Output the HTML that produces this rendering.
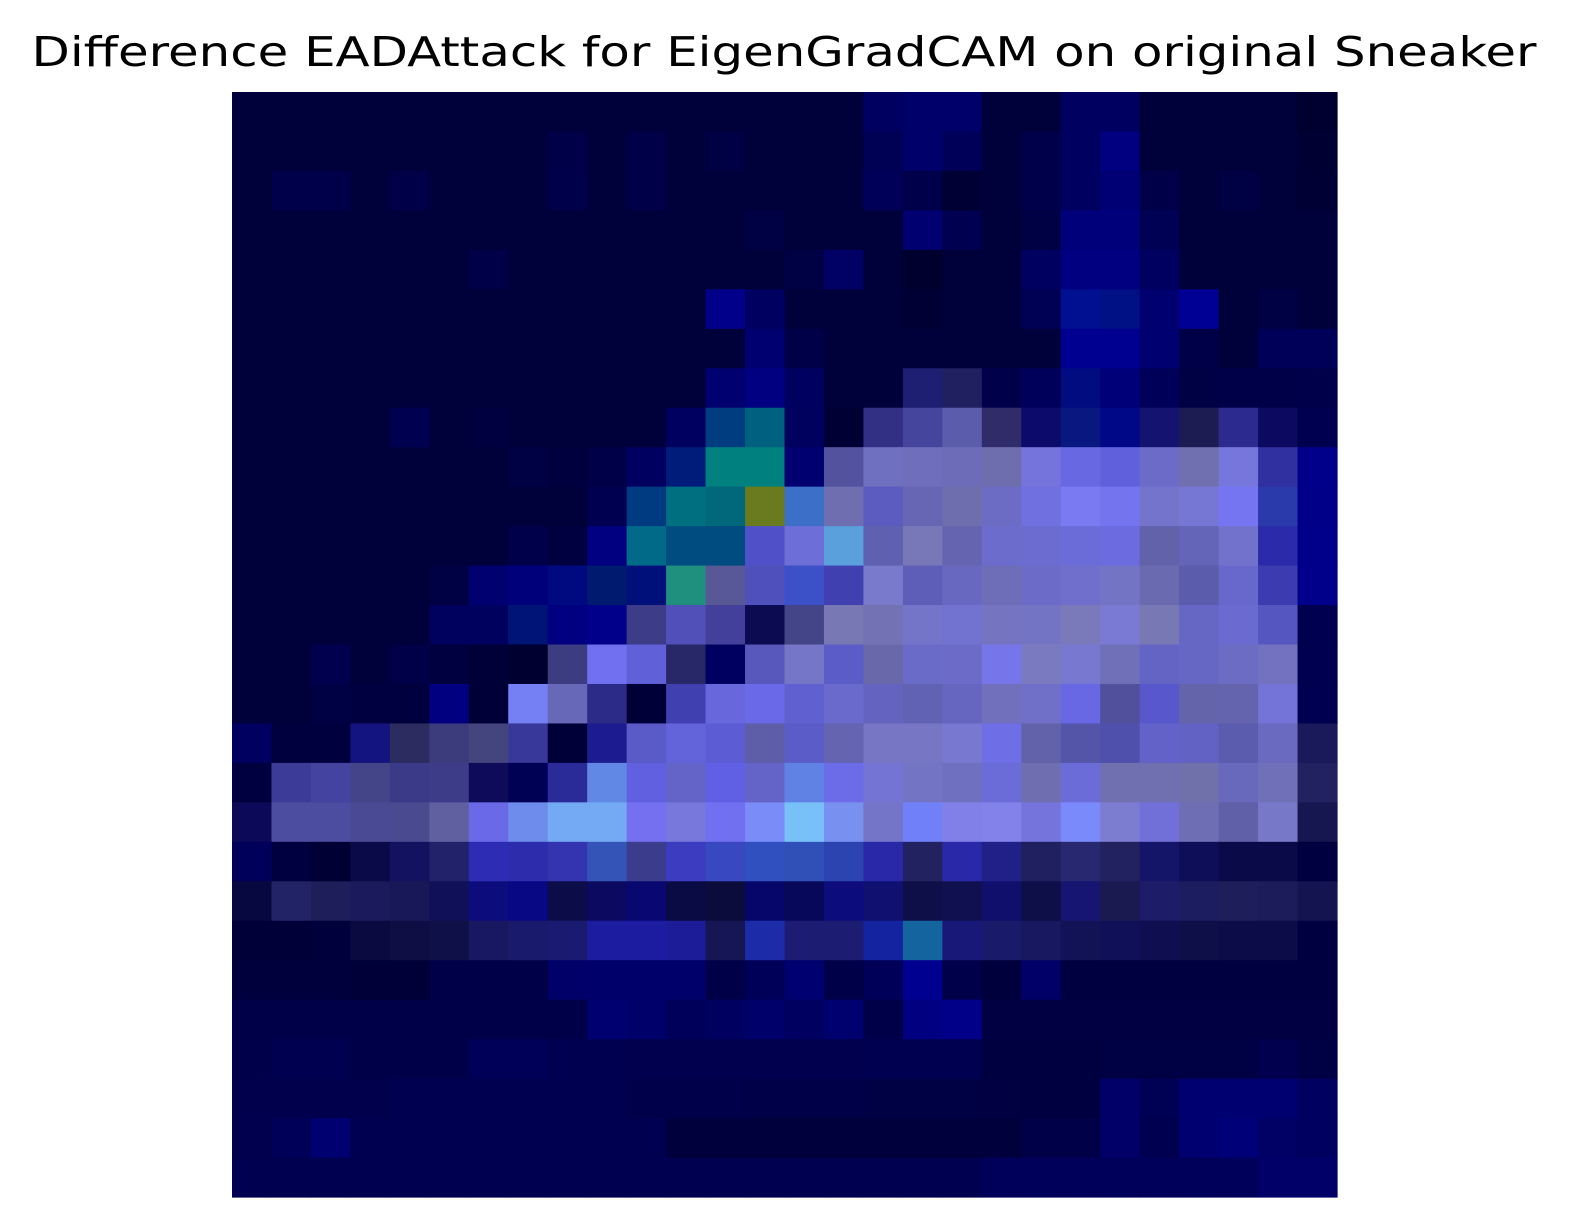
<!DOCTYPE html>
<html><head><meta charset="utf-8"><style>
html,body{margin:0;padding:0;background:#fff;width:1572px;height:1231px;overflow:hidden}
svg{display:block}
</style></head><body>
<svg id="chart" width="1572" height="1231" viewBox="0 0 1572 1231" xmlns="http://www.w3.org/2000/svg">
<text x="784" y="66" text-anchor="middle" font-family="DejaVu Sans, Liberation Sans, sans-serif" font-size="41" textLength="1505" lengthAdjust="spacingAndGlyphs" fill="#000">Difference EADAttack for EigenGradCAM on original Sneaker</text>
<g id="cells"></g>
</svg>
<script>
const D="00003a";
const row0=[D,D,D,D,D,D,D,D,D,D,D,D,D,D,D,D,"000060","00006a","00006a",D,D,"000060","000060",D,D,D,D,"000030"];
const row1=[D,D,D,D,D,D,D,D,"000048",D,"000048",D,"000044",D,D,D,"000055","00006a","000058",D,"00004a","000060","000080",D,D,D,D,"000032"];
const row2=[D,"00004a","00004a",D,"000048",D,D,D,"00004a",D,"000048",D,D,D,D,D,"000058","00004a","000035",D,"00004a","000060","000075","000048",D,"000045",D,"000034"];
const row3=[D,D,D,D,D,D,D,D,D,D,D,D,D,"000045",D,D,D,"000070","000050",D,"000044","00007a","00007a","000055",D,D,D,D];
const row4=[D,D,D,D,D,D,"000048",D,D,D,D,D,D,D,"000045","000065",D,"00002e",D,D,"000060","000080","000080","000060",D,D,D,D];
const row5=[D,D,D,D,D,D,D,D,D,D,D,D,"00008a","000060",D,D,D,"000034",D,D,"000055","001090","001085","000070","000095",D,"000045",D];
const row6=[D,D,D,D,D,D,D,D,D,D,D,D,D,"000070","000048",D,D,D,D,D,D,"000090","000090","000070","000048",D,"000058","000058"];
const row7=[D,D,D,D,D,D,D,D,D,D,D,D,"000070","000080","000060",D,D,"1e1e72","202060","00004a","00005a","000c80","000078","000058","000045","000048","000048","00004a"];
const row8=[D,D,D,D,"000050",D,"000040",D,D,D,D,"000060","003d80","006080","00005e","000035","323084","45459e","5c5cac","302c6a","0c0a6a","081880","000888","141470","1c1c52","2c2a8e","0c0a60","000050"];
const row9=[D,D,D,D,D,D,D,"000045","00003e","000048","000060","001c7a","00807e","00807e","000070","52529e","7070c0","6e6ebc","6c6cb8","6e6eae","7474dc","6868e2","6060dc","6c6cc8","7070b0","7676dc","3030a0","00008a"];
const row10=[D,D,D,D,D,D,D,D,D,"000050","003a80","007080","00687a","6a7a1e","3c70c8","6e6eb0","5c5cc0","6666b4","6e6eae","6c6cc4","7070e0","7a7af2","7474ee","7474cc","7676d4","7575f2","2a3aaa","000088"];
const row11=[D,D,D,D,D,D,D,"00004a","000040","000080","006a88","004c80","004c80","5050c8","6e6ed8","5aa0dc","6060b0","7878b8","6464b0","6c6ccc","6c6cd0","6c6cd8","6c6ce0","6262aa","6464b8","7272cc","2a2aaa","00008a"];
const row12=[D,D,D,D,D,"000045","000070","00007a","000a80","001a70","00107a","20907e","585896","5050bc","3c50c8","4040b0","7a7acc","5e5eb8","6868c0","6e6eb8","6c6cc8","7070cc","7474c4","6a6ab0","5c5cac","6868cc","3c3cb0","00008a"];
const row13=[D,D,D,D,D,"00005e","00005e","001478","000080","00008a","3c3c88","5050b8","42409a","0c0a50","444488","7878b4","7272b4","7474c8","7272d0","7474c0","7474c4","7a7aba","7a7ad4","7878b4","6666c4","6a6ad0","5656c0","000050"];
const row14=[D,D,"00004e",D,"000048","000040","000038","000030","3c3c80","7070f0","6060d8","282868","000060","5858bc","7676c8","5c5cc8","6868aa","6a6ac8","6c6cc8","7676ea","7a7ac0","7878d0","7070b8","6464c4","6666c4","6c6cc4","7272c0","000050"];
const row15=[D,D,"000045","000040","00003e","000080","000038","7480f4","6868b8","2c2c88","000038","4040b0","6868dc","6a6ae8","6060d0","6a6acc","6464c0","6262b4","6666c0","7070bc","7070c8","6868e4","50509c","5858cc","6464aa","6464ae","7474d8","000050"];
const row16=["000060","00003e","00003e","141480","2c2c60","3c3c7c","44447e","38389a","000038","1c1c90","5a5ac8","6464da","5c5cd4","5e5ea8","5c5cc8","6464b0","7676c4","7676c4","7878d0","6e6ee6","6262aa","5454a8","4f4fac","6262c8","6262c4","5c5cae","6a6ac0","1a1a5a"];
const row17=["000040","3c3c98","4444a0","444488","3a3a88","3c3c88","0e0c5a","000055","2a2a98","6088e4","6060e0","6464c8","6060e4","6464c8","6082e4","6c6ce8","7474d4","7474c4","7070c0","6c6cd8","6e6eb0","6c6cd8","7070b0","7070b0","7070aa","6868bc","7070b8","222260"];
const row18=["0c0a58","4c4ca0","4c4ca0","4a4a94","4a4a90","6060a0","6a6ae8","6e8cec","74aaf4","74aaf4","7470f0","7878dc","7070f0","7a8cf8","78c0f8","7890f0","7474c8","7080f8","8080e8","8282ea","7474dc","7a8afa","7c7cd0","7070d8","6e6eb4","6060a8","7878c8","161650"];
const row19=["00005a","000040","000034","0a0a48","121260","22226a","2c2cb4","2c2cac","3434b0","3454b8","3c3c8c","3c3cc0","3848c0","3050c0","3050b8","2c44b0","2828a8","222260","2828a8","202088","202060","282870","222260","141468","0e0e58","0a0a48","0a0a48","000040"];
const row20=["080840","222266","1e1e5a","1a1a5c","181858","101058","0c0c7c","080884","0c0c48","0c0a60","080870","0a0a44","0c0c3c","06066a","08085a","0c0c7c","101070","0e0e48","101050","10106c","0e0e48","161672","1a1a50","1c1c68","1c1c60","1e1e5a","1c1c5a","141450"];
const row21=["000038","000038","00003c","0a0a40","0e0e44","101048","181862","1a1a6c","1a1a70","1c1ca0","1c1ca0","1c1c98","161654","1c2ca8","1c1c72","1c1c72","1424a0","1464a0","181878","1a1a6a","181860","121256","101058","0e0e50","0e0e48","0c0c48","0c0c48","000040"];
const row22=["00003c","00003c","00003c","000038","000038","000048","000048","000048","000068","00006a","00006a","00006a","000048","000058","000070","000048","000058","000090","00004a","00003c","000068","000040","000040","000040","000040","000040","000040","000040"];
const row23=["000048","000048","000048","000048","000048","000048","000048","000048","000048","000070","00006a","00005a","000060","00006a","000060","00006e","000048","000080","000088","000042","000042","000042","000042","000042","000042","000042","000042","000042"];
const row24=["00004a","000050","000050","000048","000048","000048","000058","000058","000050","000050","00004e","00004e","00004e","00004e","00004e","00004e","000050","000050","000050","000040","000040","000040","000045","000045","000045","000045","00004e","000045"];
const row25=["00004c","00004c","00004c","00004c","000050","000050","000050","000050","000050","000050","00004a","00004a","00004a","000048","000048","000048","000045","000045","000045","000042","000040","000040","000068","000055","000070","000070","000070","000060"];
const row26=["00004e","000058","000070","000050","000050","000050","000050","000050","000050","000050","000050","00003c","00003c","00003c","00003c","00003c","00003c","00003c","00003c","00003c","000048","000048","000068","000050","000070","000078","000065","000060"];
const row27=["000050","000050","000050","000050","000050","000050","000050","000050","000050","000050","000050","000050","000050","000050","000050","000050","000050","000050","000050","00005a","00005a","00005a","00005a","00005a","00005a","00005a","000068","000068"];
const grid=[row0,row1,row2,row3,row4,row5,row6,row7,row8,row9,row10,row11,row12,row13,row14,row15,row16,row17,row18,row19,row20,row21,row22,row23,row24,row25,row26,row27];

const X0=232, Y0=92, W=1105, H=1105;
const nCols=28, nRows=28;
function xScale(c){return X0 + c*W/nCols;}
function yScale(r){return Y0 + r*H/nRows;}
const g=document.getElementById('cells');
const NS="http://www.w3.org/2000/svg";
grid.forEach((row,r)=>{
  row.forEach((col,c)=>{
    const rect=document.createElementNS(NS,'rect');
    rect.setAttribute('x',xScale(c));
    rect.setAttribute('y',yScale(r));
    rect.setAttribute('width',xScale(c+1)-xScale(c)+0.6);
    rect.setAttribute('height',yScale(r+1)-yScale(r)+0.6);
    rect.setAttribute('fill','#'+col);
    
    
    g.appendChild(rect);
  });
});
</script>
</body></html>
